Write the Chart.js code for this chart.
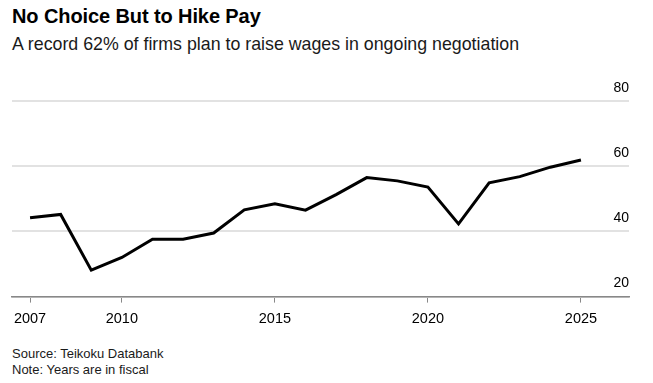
<!DOCTYPE html>
<html>
<head>
<meta charset="utf-8">
<script src="https://cdn.jsdelivr.net/npm/chart.js@4"></script>
<style>
  html, body { margin: 0; padding: 0; background: #fff; }
  body { width: 653px; height: 383px; position: relative; overflow: hidden; font-family: "Liberation Sans", Arial, sans-serif; color: #000; }
  #title { position: absolute; left: 12px; top: 5px; font-size: 20px; font-weight: bold; letter-spacing: -0.1px; }
  #subtitle { position: absolute; left: 12px; top: 34px; font-size: 17.8px; color: #1a1a1a; }
  #footer { position: absolute; left: 12px; top: 346px; font-size: 13px; line-height: 15.5px; color: #1a1a1a; }
  #wrap { position: absolute; left: 0; top: 0; width: 653px; height: 340px; }
</style>
</head>
<body>
<div id="title">No Choice But to Hike Pay</div>
<div id="subtitle">A record 62% of firms plan to raise wages in ongoing negotiation</div>
<div id="wrap"><canvas id="c"></canvas></div>
<div id="footer">Source: Teikoku Databank<br>Note: Years are in fiscal</div>
<script>
const years = [2007, 2008, 2009, 2010, 2011, 2012, 2013, 2014, 2015, 2016, 2017, 2018, 2019, 2020, 2021, 2022, 2023, 2024, 2025];
const sharePct = [44.2, 45.2, 28.1, 32.0, 37.6, 37.6, 39.5, 46.6, 48.5, 46.5, 51.3, 56.5, 55.5, 53.6, 42.3, 54.9, 56.8, 59.7, 61.9];
const xTickYears = [2007, 2010, 2015, 2020, 2025];
const yTickValues = [20, 40, 60, 80];

new Chart(document.getElementById('c'), {
  type: 'line',
  data: {
    datasets: [{
      data: years.map((y, i) => ({ x: y, y: sharePct[i] })),
      borderColor: '#000',
      borderWidth: 3,
      pointRadius: 0,
      tension: 0,
      fill: false
    }]
  },
  options: {
    responsive: true,
    maintainAspectRatio: false,
    animation: false,
    layout: { padding: { top: 101, left: 12, right: 24, bottom: 4 } },
    plugins: { legend: { display: false }, tooltip: { enabled: false } },
    scales: {
      x: {
        type: 'linear',
        min: 2006.41,
        max: 2026.57,
        afterBuildTicks: s => { s.ticks = xTickYears.map(v => ({ value: v })); },
        grid: { drawOnChartArea: false, drawTicks: true, tickLength: 6, color: '#888', lineWidth: 1 },
        border: { display: true, color: '#888', width: 1.5 },
        ticks: { color: '#000', font: { family: 'Liberation Sans', size: 14.5 }, padding: 8, maxRotation: 0, callback: v => String(v) }
      },
      y: {
        position: 'right',
        min: 20,
        max: 80,
        afterBuildTicks: s => { s.ticks = yTickValues.map(v => ({ value: v })); },
        grid: { drawTicks: false, color: '#e2e2e2', lineWidth: 2 },
        border: { display: false },
        ticks: { mirror: true, padding: 0, labelOffset: -13, color: '#000', font: { family: 'Liberation Sans', size: 14 } }
      }
    }
  }
});
</script>
</body>
</html>
